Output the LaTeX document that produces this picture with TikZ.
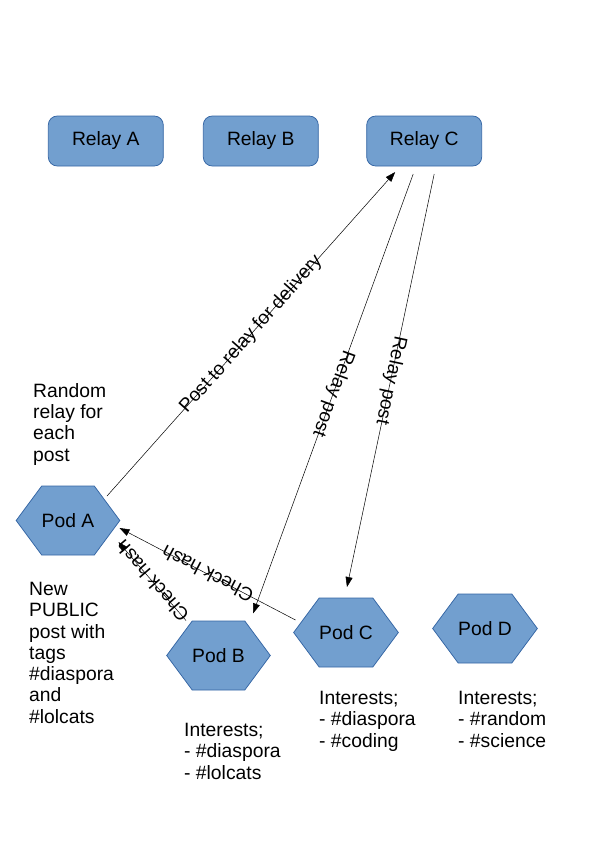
\documentclass[tikz,border=0pt]{standalone}
\usepackage{fontspec}
\setmainfont{Liberation Sans}
\usetikzlibrary{arrows.meta,shapes.symbols,calc}

\tikzset{
    relay/.style={draw={rgb, 255:red, 52; green, 101; blue, 164 }, fill={rgb, 255:red, 114; green, 159; blue, 207 }, line width=0.75pt, rounded corners=9pt, minimum width=115pt, minimum height=50pt, inner sep=0pt, font=\fontsize{19.3}{21.3}\selectfont},
    pod/.style={signal, signal to=west and east, signal pointer angle=107, draw={rgb, 255:red, 52; green, 101; blue, 164 }, fill={rgb, 255:red, 114; green, 159; blue, 207 }, line width=0.75pt, minimum width=103pt, minimum height=69pt, inner sep=0pt, font=\fontsize{19.3}{21.3}\selectfont},
    note/.style={anchor=north west, inner sep=0pt, align=left, font=\fontsize{19.3}{21.3}\selectfont},
    link/.style={line width=0.5pt, -{Triangle[length=10pt,width=7pt]}},
    lbl/.style={sloped, allow upside down, inner sep=0pt, font=\fontsize{19}{21.3}\selectfont}
}

\begin{document}
\begin{tikzpicture}[x=1pt,y=-1pt]
        \useasboundingbox (0,0) rectangle (595,841);

        %Rounded Rect
        \node[relay] (relayA) at (105.8,141) {Relay A};
        %Rounded Rect
        \node[relay] (relayB) at (260.8,141) {Relay B};
        %Rounded Rect
        \node[relay] (relayC) at (424.2,141) {Relay C};

        %Hexagon
        \node[pod] (podA) at (68,520.5) {Pod A};
        %Hexagon
        \node[pod] (podB) at (218.5,655.5) {Pod B};
        %Hexagon
        \node[pod] (podC) at (346,632.5) {Pod C};
        %Hexagon
        \node[pod] (podD) at (485,628.5) {Pod D};

        %Straight Lines
        \draw[link] ($(podA.center)+(39,-24.5)$) -- node[lbl] {Post to relay for delivery} ($(relayC.center)+(-29,31)$);
        %Straight Lines
        \draw[link] ($(relayC.center)+(-11,33)$) -- node[lbl] {Relay post} ($(podB.center)+(34.5,-42)$);
        %Straight Lines
        \draw[link] ($(relayC.center)+(10,33)$) -- node[lbl] {Relay post} ($(podC.center)+(1,-45.5)$);
        %Straight Lines
        \draw[link] ($(podC.center)+(-50.5,-12.5)$) -- node[lbl] {Check hash} ($(podA.center)+(51.5,7.5)$);
        %Straight Lines
        \draw[link] ($(podB.center)+(-32.5,-35)$) -- node[lbl] {Check hash} ($(podA.center)+(50.5,21.5)$);

        % Text Node
        \node[note] (randomNote) at (33,383) {Random\\relay for\\each\\post};
        % Text Node
        \node[note] (publicNote) at (29,582) {New\\PUBLIC\\post with\\tags\\\#diaspora\\and\\\#lolcats};
        % Text Node
        \node[note] (podBNote) at (184,723) {Interests;\\- \#diaspora\\- \#lolcats};
        % Text Node
        \node[note] (podCNote) at (319,691) {Interests;\\- \#diaspora\\- \#coding};
        % Text Node
        \node[note] (podDNote) at (458,691) {Interests;\\- \#random\\- \#science};
\end{tikzpicture}
\end{document}
